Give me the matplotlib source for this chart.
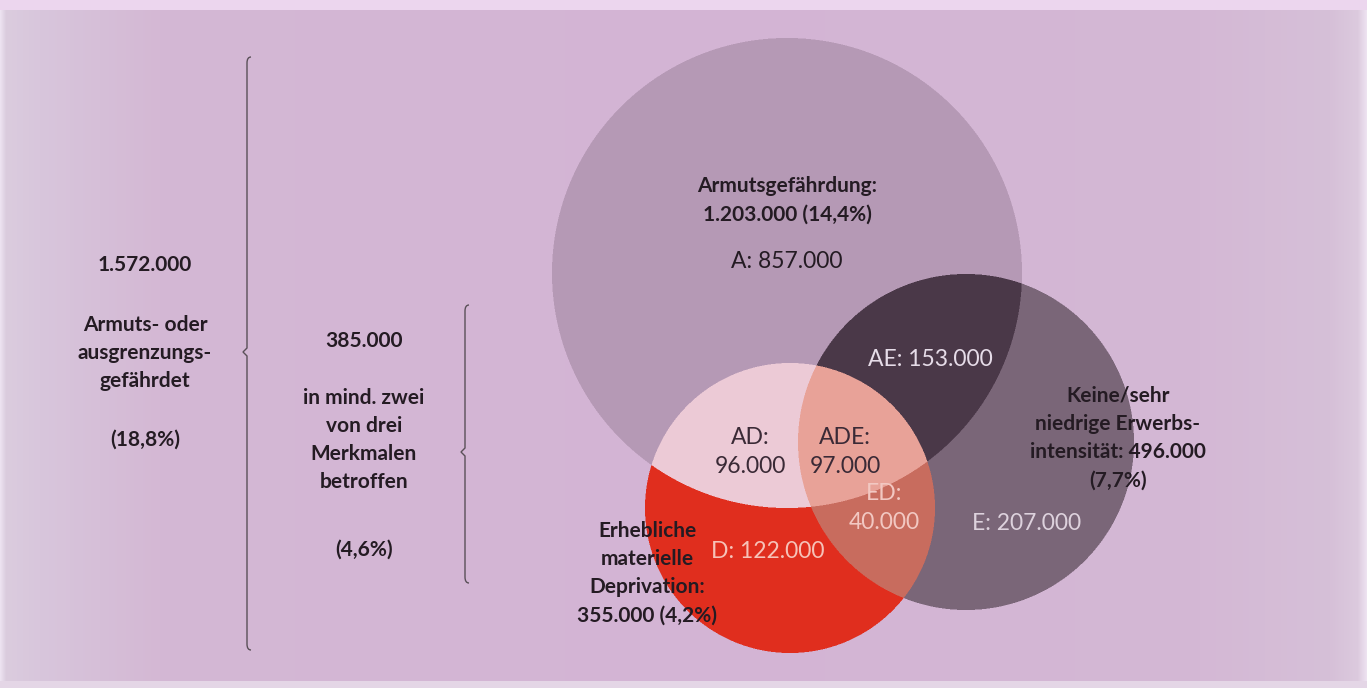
import numpy as np
import matplotlib
matplotlib.use("Agg")
import matplotlib.pyplot as plt
from matplotlib.path import Path
from matplotlib.patches import PathPatch

# ---------------- data ----------------
set_keys = ["A", "D", "E"]
set_titles = ["Armutsgefährdung:", "Erhebliche\nmaterielle\nDeprivation:", "Keine/sehr\nniedrige Erwerbs-\nintensität:"]
set_totals = [1203000, 355000, 496000]
set_shares = [14.4, 4.2, 7.7]

region_keys = ["A", "AE", "AD", "ADE", "ED", "D", "E"]
region_values = [857000, 153000, 96000, 97000, 40000, 122000, 207000]

total_value = 1572000
total_share = 18.8
total_label = ["Armuts- oder", "ausgrenzungs-", "gefährdet"]
multi_value = 385000
multi_share = 4.6
multi_label = ["in mind. zwei", "von drei", "Merkmalen", "betroffen"]


def de_num(v):
    return f"{v:,}".replace(",", ".")


def de_pct(p):
    return f"({p:.1f}%)".replace(".", ",")


# ---------------- layout ----------------
W, H = 1367, 688
circles = {"A": (787, 273, 235), "E": (966, 442, 168), "D": (790, 508, 145)}

region_colors = {
    "A": (181, 153, 181),
    "E": (122, 102, 120),
    "AE": (74, 56, 72),
    "D": (224, 46, 30),
    "AD": (236, 202, 214),
    "ADE": (232, 162, 152),
    "ED": (200, 108, 94),
}

ss = 2
yy, xx = np.mgrid[0:H * ss, 0:W * ss]
X = (xx + 0.5) / ss
Y = (yy + 0.5) / ss

# background gradient
cx = [0, 6, 40, 160, 700, 1200, 1330, 1358, 1367]
cR = [238, 219, 216, 212, 211, 212, 214, 220, 238]
cG = [228, 204, 198, 184, 180, 184, 192, 202, 228]
cB = [242, 222, 220, 212, 212, 213, 216, 222, 242]
img = np.zeros((H * ss, W * ss, 3))
img[..., 0] = np.interp(X, cx, cR)
img[..., 1] = np.interp(X, cx, cG)
img[..., 2] = np.interp(X, cx, cB)
top = Y < 10
img[top] = (236, 214, 238)
bot = Y > 681
img[bot] = (228, 214, 230)


def inside(k):
    x0, y0, r = circles[k]
    return (X - x0) ** 2 + (Y - y0) ** 2 <= r ** 2


mA, mD, mE = inside("A"), inside("D"), inside("E")
img[mA & ~mD & ~mE] = region_colors["A"]
img[mE & ~mA & ~mD] = region_colors["E"]
img[mA & mE & ~mD] = region_colors["AE"]
img[mD & ~mA & ~mE] = region_colors["D"]
img[mD & mA & ~mE] = region_colors["AD"]
img[mD & mA & mE] = region_colors["ADE"]
img[mD & mE & ~mA] = region_colors["ED"]

img = img.reshape(H, ss, W, ss, 3).mean(axis=(1, 3)) / 255.0

fig = plt.figure(figsize=(W / 100, H / 100), dpi=100)
ax = fig.add_axes([0, 0, 1, 1])
ax.imshow(img, extent=(0, W, H, 0), interpolation="bilinear")
ax.set_xlim(0, W)
ax.set_ylim(H, 0)
ax.axis("off")

FONT = "Lato"
dark = "#241b23"
FS_IN = 16.5
FS_B = 15
LS_IN = 1.42
LS_B = 1.52

# ---------------- region labels ----------------
region_pos = {"A": (787, 262), "AE": (930, 360), "AD": (750, 452), "ADE": (845, 452),
              "ED": (884, 508), "D": (768, 551), "E": (1027, 523)}
region_text_colors = {"A": dark, "AE": "#e6dce8", "AD": "#3a2a36", "ADE": "#3a2a36",
                      "ED": "#f2c8c2", "D": "#f6c2b8", "E": "#ddd2dd"}
two_line = {"AD", "ADE", "ED"}
for k, v in zip(region_keys, region_values):
    sep = ":\n" if k in two_line else ": "
    x, y = region_pos[k]
    ax.text(x, y, f"{k}{sep}{de_num(v)}", ha="center", va="center", fontsize=FS_IN,
            family=FONT, color=region_text_colors[k], linespacing=LS_IN)

# ---------------- set titles ----------------
title_pos = {"A": (787, 200), "D": (647, 573), "E": (1118, 438)}
for k, t, tot, sh in zip(set_keys, set_titles, set_totals, set_shares):
    x, y = title_pos[k]
    if k == "E":
        s = f"{t} {de_num(tot)}\n{de_pct(sh)}"
    else:
        s = f"{t}\n{de_num(tot)} {de_pct(sh)}"
    ax.text(x, y, s, ha="center", va="center", fontsize=FS_B, family=FONT,
            weight="bold", color=dark, linespacing=LS_B)

# ---------------- left summary ----------------
ax.text(145, 265, de_num(total_value), ha="center", va="center", fontsize=FS_B,
        family=FONT, weight="bold", color=dark)
ax.text(145, 353, "\n".join(total_label), ha="center", va="center", fontsize=FS_B,
        family=FONT, weight="bold", color=dark, linespacing=LS_B)
ax.text(145, 440, de_pct(total_share), ha="center", va="center", fontsize=FS_B,
        family=FONT, weight="bold", color=dark)

ax.text(364, 341, de_num(multi_value), ha="center", va="center", fontsize=FS_B,
        family=FONT, weight="bold", color=dark)
ax.text(364, 440, "\n".join(multi_label), ha="center", va="center", fontsize=FS_B,
        family=FONT, weight="bold", color=dark, linespacing=LS_B)
ax.text(364, 550, de_pct(multi_share), ha="center", va="center", fontsize=FS_B,
        family=FONT, weight="bold", color=dark)


# ---------------- brackets ----------------
def brace(x, y0, y1, ym):
    verts = [(x + 4, y0), (x, y0), (x, y0 + 6),
             (x, ym - 4), (x - 4, ym), (x, ym + 4),
             (x, y1 - 6), (x, y1), (x + 4, y1)]
    codes = [Path.MOVETO, Path.CURVE3, Path.CURVE3,
             Path.LINETO, Path.LINETO, Path.LINETO,
             Path.LINETO, Path.CURVE3, Path.CURVE3]
    ax.add_patch(PathPatch(Path(verts, codes), fill=False, edgecolor="#5a5058", lw=1.0))


brace(247, 57, 650, 352)
brace(465, 305, 583, 452)

fig.savefig("out.png", dpi=100)
